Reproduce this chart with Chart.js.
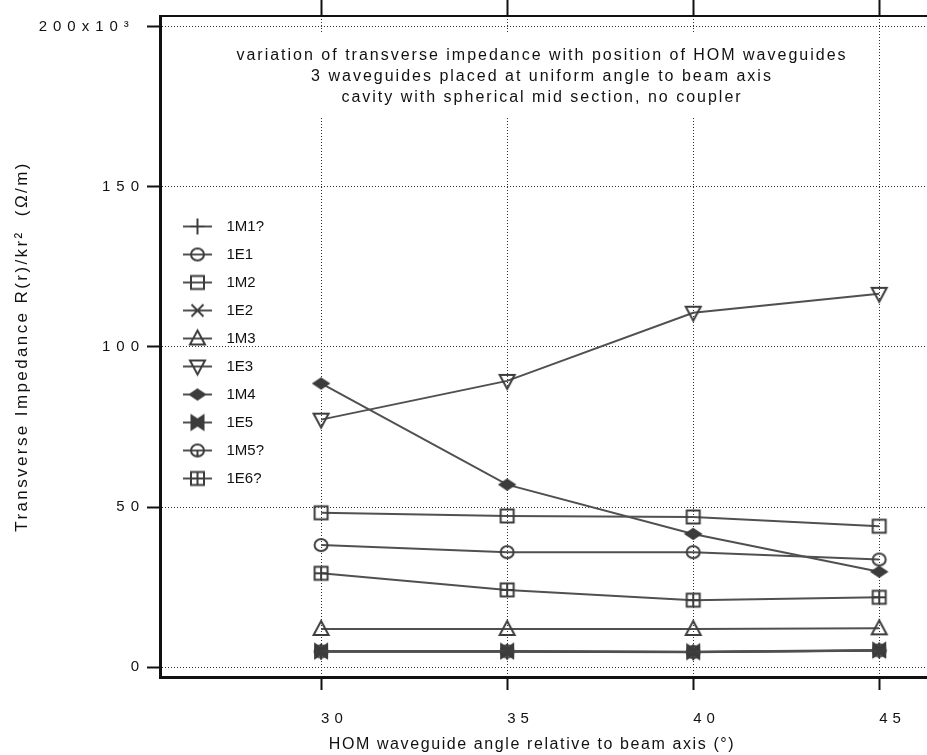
<!DOCTYPE html>
<html>
<head>
<meta charset="utf-8">
<script src="https://cdn.jsdelivr.net/npm/chart.js@4.4.1/dist/chart.umd.min.js"></script>
<style>
  html, body { margin: 0; padding: 0; background: #fff; overflow: hidden; }
  #wrap { width: 927px; height: 755px; overflow: hidden; }
  canvas { display: block; }
</style>
</head>
<body>
<div id="wrap"><canvas id="c" width="950" height="755"></canvas></div>
<script>
// HOM waveguide angle (degrees)
const angles = [30, 35, 40, 45];

// transverse impedance per mode, in units of 10^3 ohm/m
const s1M1 = [4.8, 4.8, 4.6, 5.2];
const s1E1 = [38.1, 35.9, 35.9, 33.6];
const s1M2 = [48.2, 47.2, 46.9, 44.0];
const s1E2 = [4.9, 4.9, 4.7, 5.1];
const s1M3 = [11.9, 11.9, 11.9, 12.1];
const s1E3 = [77.3, 89.4, 110.7, 116.6];
const s1M4 = [88.6, 57.0, 41.6, 29.8];
const s1E5 = [5.0, 5.0, 4.8, 5.3];
const s1M5 = [4.9, 4.9, 4.7, 5.2];
const s1E6 = [29.3, 24.1, 20.9, 21.8];

const modeNames = ['1M1?', '1E1', '1M2', '1E2', '1M3', '1E3', '1M4', '1E5', '1M5?', '1E6?'];
const modeValues = [s1M1, s1E1, s1M2, s1E2, s1M3, s1E3, s1M4, s1E5, s1M5, s1E6];
const modeMarkers = ['plus', 'circle', 'square', 'x', 'triUp', 'triDown', 'diamond', 'bowtie', 'circleTick', 'squareCross'];

const xTicks = [30, 35, 40, 45];
const yTicks = [0, 50, 100, 150, 200];

const noteLines = [
  'variation of transverse impedance with position of HOM waveguides',
  '3 waveguides placed at uniform angle to beam axis',
  'cavity with spherical mid section, no coupler'
];
const xTitle = 'HOM waveguide angle relative to beam axis (°)';
const yTitle = 'Transverse Impedance R(r)/kr²  (Ω/m)';

const FONT = '"Liberation Sans", Arial, Helvetica, sans-serif';
const INK = '#3c3c3c';
const LINE = '#505050';

// ---- marker glyphs ----
function drawMarker(g, kind, cx, cy) {
  g.lineWidth = 2;
  g.strokeStyle = INK;
  g.fillStyle = INK;
  g.beginPath();
  switch (kind) {
    case 'plus':
      g.moveTo(cx, cy - 8); g.lineTo(cx, cy + 8);
      g.moveTo(cx - 7, cy); g.lineTo(cx + 7, cy);
      g.stroke(); break;
    case 'circle':
      g.ellipse(cx, cy, 6.5, 6, 0, 0, Math.PI * 2); g.stroke(); break;
    case 'square':
      g.rect(cx - 6.5, cy - 6.5, 13, 13); g.stroke(); break;
    case 'x':
      g.moveTo(cx - 6, cy - 6); g.lineTo(cx + 6, cy + 6);
      g.moveTo(cx + 6, cy - 6); g.lineTo(cx - 6, cy + 6);
      g.stroke(); break;
    case 'triUp':
      g.moveTo(cx, cy - 8); g.lineTo(cx + 7.5, cy + 6); g.lineTo(cx - 7.5, cy + 6);
      g.closePath(); g.stroke(); break;
    case 'triDown':
      g.moveTo(cx, cy + 8); g.lineTo(cx + 7.5, cy - 6); g.lineTo(cx - 7.5, cy - 6);
      g.closePath(); g.stroke(); break;
    case 'diamond':
      g.moveTo(cx, cy - 5); g.lineTo(cx + 7.5, cy); g.lineTo(cx, cy + 5); g.lineTo(cx - 7.5, cy);
      g.closePath(); g.fill(); g.stroke(); break;
    case 'bowtie':
      g.moveTo(cx - 6, cy - 7); g.lineTo(cx, cy - 3); g.lineTo(cx + 6, cy - 7);
      g.lineTo(cx + 6, cy + 7); g.lineTo(cx, cy + 3); g.lineTo(cx - 6, cy + 7);
      g.closePath(); g.fill(); g.stroke(); break;
    case 'circleTick':
      g.ellipse(cx, cy, 6.5, 6, 0, 0, Math.PI * 2);
      g.moveTo(cx, cy); g.lineTo(cx, cy + 6);
      g.stroke(); break;
    case 'squareCross':
      g.rect(cx - 6.5, cy - 6.5, 13, 13);
      g.moveTo(cx, cy - 6.5); g.lineTo(cx, cy + 6.5);
      g.moveTo(cx - 6.5, cy); g.lineTo(cx + 6.5, cy);
      g.stroke(); break;
  }
}

function pointImage(kind) {
  const cv = document.createElement('canvas');
  cv.width = 22; cv.height = 22;
  drawMarker(cv.getContext('2d'), kind, 11, 11);
  return cv;
}

function legendImage(kind) {
  const cv = document.createElement('canvas');
  cv.width = 46; cv.height = 22;
  const g = cv.getContext('2d');
  g.strokeStyle = LINE; g.lineWidth = 2;
  g.beginPath(); g.moveTo(10, 11); g.lineTo(39, 11); g.stroke();
  drawMarker(g, kind, 24.5, 11);
  return cv;
}

const legendIcons = modeMarkers.map(legendImage);

const datasets = modeNames.map((name, i) => ({
  label: name,
  data: angles.map((a, j) => ({ x: a, y: modeValues[i][j] })),
  borderColor: LINE,
  borderWidth: 2,
  backgroundColor: 'transparent',
  tension: 0,
  pointStyle: pointImage(modeMarkers[i]),
  pointRadius: 7,
  clip: false
}));

// draw text of a scale with extra tracking
function track(scale, method, px) {
  if (scale['_tracked_' + method]) return;
  const orig = Object.getPrototypeOf(scale)[method];
  scale[method] = function (...args) {
    const ctx = this.ctx;
    const prev = ctx.letterSpacing;
    ctx.letterSpacing = px;
    orig.apply(this, args);
    ctx.letterSpacing = prev || '0px';
  };
  scale['_tracked_' + method] = true;
}

const notePlugin = {
  id: 'note',
  afterLayout(chart) {
    // move the in-plot legend column a little lower
    const lg = chart.legend;
    if (lg) { lg.top += 22; lg.bottom += 22; }
  },
  beforeDatasetsDraw(chart) {
    const ctx = chart.ctx;
    ctx.save();
    ctx.fillStyle = '#fff';
    ctx.fillRect(226, 33, 630, 83);
    ctx.fillStyle = '#111';
    ctx.font = '16px ' + FONT;
    ctx.letterSpacing = '2px';
    ctx.textAlign = 'center';
    ctx.textBaseline = 'alphabetic';
    noteLines.forEach((t, i) => ctx.fillText(t, 542, 60 + i * 21));
    ctx.restore();
  },
  afterDraw(chart) {
    const ctx = chart.ctx;
    ctx.save();
    ctx.fillStyle = '#111';
    ctx.font = '16px ' + FONT;
    ctx.letterSpacing = '1.6px';
    ctx.textAlign = 'center';
    ctx.textBaseline = 'middle';
    ctx.fillText(xTitle, 532, 745);
    ctx.restore();
  }
};

const gridCommon = {
  color: '#2e2e2e',
  lineWidth: 1,
  tickColor: '#111',
  tickWidth: 2,
  tickBorderDash: []
};

new Chart(document.getElementById('c'), {
  type: 'line',
  data: { datasets },
  options: {
    responsive: false,
    animation: false,
    devicePixelRatio: 1,
    layout: { padding: { left: 0, right: 4, top: 0, bottom: 0 } },
    plugins: {
      tooltip: { enabled: false },
      legend: {
        position: 'chartArea',
        align: 'center',
        labels: {
          usePointStyle: true,
          pointStyleWidth: 46,
          padding: 13,
          color: '#111',
          font: { family: FONT, size: 15 },
          generateLabels: (chart) => chart.data.datasets.map((ds, i) => ({
            text: ds.label,
            pointStyle: legendIcons[i],
            datasetIndex: i,
            hidden: false,
            lineWidth: 0,
            strokeStyle: 'transparent',
            fillStyle: 'transparent',
            fontColor: '#111'
          }))
        }
      }
    },
    scales: {
      x: {
        type: 'linear',
        position: 'bottom',
        min: 25.67,
        max: 46.66,
        afterBuildTicks: (s) => { s.ticks = xTicks.map(v => ({ value: v })); },
        afterFit: (s) => { s.height = 78; track(s, 'drawLabels', '5px'); },
        grid: Object.assign({ drawOnChartArea: true, drawTicks: true, tickLength: 13 }, gridCommon),
        border: { display: true, color: '#111', width: 3, dash: [1, 2] },
        ticks: { z: 1, padding: 20, align: 'start', color: '#111', font: { family: FONT, size: 15 }, maxRotation: 0, autoSkip: false }
      },
      xTop: {
        type: 'linear',
        position: 'top',
        min: 25.67,
        max: 46.66,
        afterBuildTicks: (s) => { s.ticks = xTicks.map(v => ({ value: v })); },
        afterFit: (s) => { s.height = 16; },
        grid: { drawOnChartArea: false, drawTicks: true, tickLength: 16, tickColor: '#111', tickWidth: 2 },
        border: { display: true, color: '#111', width: 2 },
        ticks: { display: false }
      },
      y: {
        type: 'linear',
        position: 'left',
        min: -3.1,
        max: 203.4,
        afterBuildTicks: (s) => { s.ticks = yTicks.map(v => ({ value: v })); },
        afterFit: (s) => { s.width = 160; track(s, 'drawLabels', '6px'); track(s, 'drawTitle', '2.4px'); },
        grid: Object.assign({ drawOnChartArea: true, drawTicks: true, tickLength: 13 }, gridCommon),
        border: { display: true, color: '#111', width: 3, dash: [1, 2] },
        ticks: {
          z: 1,
          padding: 2,
          color: '#111',
          font: { family: FONT, size: 15 },
          callback: (v) => (v === 200 ? '200x10³ ' : String(v))
        },
        title: {
          display: true,
          text: yTitle,
          color: '#111',
          font: { family: FONT, size: 17 },
          padding: { top: 12, bottom: 0 }
        }
      }
    }
  },
  plugins: [notePlugin]
});
</script>
</body>
</html>
